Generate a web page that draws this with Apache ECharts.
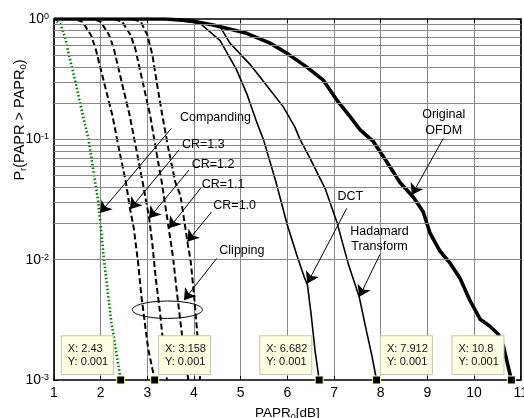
<!DOCTYPE html>
<html><head><meta charset="utf-8">
<script src="https://cdn.jsdelivr.net/npm/echarts@6/dist/echarts.min.js"></script>
<style>html,body{margin:0;padding:0;background:#fff}#c{width:524px;height:418px}</style>
</head><body><div id="c"></div>
<script>
// ---------- data ----------
const xTicks = [1,2,3,4,5,6,7,8,9,10,11];
const yTicks = [0.001,0.01,0.1,1];
const companding = [[1.0,1.0],[1.03,0.97],[1.14,0.9],[1.24,0.7],[1.32,0.5],[1.46,0.3],[1.60,0.17],[1.74,0.1],[1.86,0.05],[1.95,0.03],[2.07,0.01],[2.23,0.003],[2.43,0.001]];
const clipCR13 = [[1.3,1],[1.45,0.995],[1.61,0.95],[1.79,0.736],[1.89,0.57],[2.07,0.30],[2.25,0.159],[2.39,0.084],[2.54,0.044],[2.63,0.0264],[2.71,0.0182],[2.80,0.0096],[2.87,0.0051],[2.96,0.0027],[3.02,0.0018],[3.158,0.001]];
const clipCR12 = [[1.7,1],[1.85,0.995],[2.0,0.95],[2.18,0.736],[2.28,0.57],[2.45,0.30],[2.62,0.159],[2.76,0.084],[2.9,0.044],[3.04,0.022],[3.11,0.0132],[3.18,0.007],[3.27,0.0037],[3.34,0.002],[3.42,0.001]];
const clipCR11 = [[2.1,1],[2.3,0.995],[2.46,0.95],[2.64,0.736],[2.74,0.57],[2.9,0.30],[3.06,0.159],[3.18,0.084],[3.31,0.044],[3.46,0.018],[3.55,0.0105],[3.63,0.0055],[3.72,0.0028],[3.79,0.0017],[3.88,0.001]];
const clipCR10 = [[2.5,1],[2.7,0.995],[2.86,0.95],[3.0,0.736],[3.11,0.5],[3.2,0.3],[3.32,0.159],[3.45,0.084],[3.6,0.044],[3.71,0.034],[3.86,0.014],[3.93,0.0096],[4.0,0.0051],[4.06,0.0027],[4.1,0.0017],[4.13,0.001]];
const dct = [[1,1],[3.3,1],[3.7,0.97],[4.13,0.92],[4.56,0.66],[4.91,0.38],[5.13,0.24],[5.34,0.14],[5.49,0.099],[5.75,0.045],[5.99,0.02],[6.2,0.011],[6.36,0.0072],[6.43,0.0062],[6.51,0.0035],[6.59,0.0018],[6.682,0.001]];
const hadamard = [[1,1],[3.4,1],[4.0,0.97],[4.56,0.86],[4.77,0.63],[5.2,0.42],[5.59,0.27],[5.91,0.187],[6.16,0.127],[6.27,0.1],[6.49,0.069],[6.81,0.039],[7.06,0.0206],[7.31,0.0091],[7.54,0.0049],[7.70,0.0025],[7.81,0.0016],[7.912,0.001]];
const originalOFDM = [[1,1],[3.4,1],[3.9,0.97],[4.41,0.89],[5.13,0.76],[5.63,0.63],[5.99,0.52],[6.41,0.40],[6.77,0.31],[7.06,0.212],[7.34,0.155],[7.56,0.12],[7.84,0.096],[8.13,0.065],[8.41,0.044],[8.70,0.033],[8.91,0.025],[9.06,0.0165],[9.27,0.0118],[9.49,0.0093],[9.7,0.007],[9.91,0.0046],[10.13,0.0032],[10.34,0.0028],[10.52,0.0024],[10.63,0.0019],[10.8,0.001]];
const tipX = [2.43,3.158,6.682,7.912,10.8];
const tipY = [0.001,0.001,0.001,0.001,0.001];
// annotations (data coordinates)
const labelTexts = ['Companding','CR=1.3','CR=1.2','CR=1.1','CR=1.0','Clipping','DCT','Hadamard\nTransform','Original\nOFDM'];
const labelAt = [[3.70,0.152],[3.743,0.0905],[3.95,0.0623],[4.165,0.0423],[4.413,0.0281],[4.542,0.0118],[7.075,0.0333],[7.975,0.01477],[9.35,0.138]];
const arrowFrom = [[3.515,0.1234],[3.678,0.0815],[3.893,0.0556],[4.143,0.0392],[4.379,0.025],[4.486,0.01025],[7.272,0.0267],[7.985,0.01107],[9.342,0.1019]];
const arrowTo = [[1.986,0.0244],[2.628,0.0263],[3.036,0.0221],[3.464,0.0182],[3.856,0.0141],[3.786,0.00461],[6.428,0.00635],[7.542,0.00491],[8.665,0.0344]];
const ellipseBox = [2.68,4.18,0.00453,0.00325];

// ---------- chart ----------
const FONT = 'Liberation Sans, Arial, sans-serif';
const chart = echarts.init(document.getElementById('c'), null, {renderer:'canvas'});
const gridColor = '#888888';
const hLines = [];
for (let e = -3; e < 0; e++) for (let m = 1; m <= 9; m++) if (!(e === -3 && m === 1)) hLines.push(m * Math.pow(10, e));

function curve(name, data, ls, z) {
  return {name, type:'line', data, symbol:'none', showSymbol:false, smooth:false, silent:true, clip:true, z: z || 3, lineStyle: ls};
}
const series = [
  {type:'line', data:[[1,0.001]], symbol:'none', lineStyle:{width:0}, silent:true, z:1,
   markLine:{silent:true, animation:false, symbol:['none','none'], label:{show:false},
     lineStyle:{color:gridColor, width:1, type:'solid'}, data: hLines.map(v => ({yAxis:v}))}},
  curve('Companding', companding, {color:'#007a00', width:2.6, type:[1.5,2.2], cap:'butt'}),
  curve('CR=1.3', clipCR13, {color:'#000', width:2, type:[6,3]}),
  curve('CR=1.2', clipCR12, {color:'#000', width:2, type:[6,3]}),
  curve('CR=1.1', clipCR11, {color:'#000', width:2, type:[6,3]}),
  curve('CR=1.0', clipCR10, {color:'#000', width:2, type:[6,3]}),
  curve('DCT', dct, {color:'#000', width:1.6}),
  curve('Hadamard', hadamard, {color:'#000', width:1.6}),
  curve('Original OFDM', originalOFDM, {color:'#000', width:3.6}),
  {type:'line', data:[[1,0.001]], symbol:'none', lineStyle:{width:0}, silent:true, z:5,
   markLine:{silent:true, animation:false, symbol:['none','arrow'], symbolSize:11, label:{show:false},
     lineStyle:{color:'#000', width:1, type:'solid'},
     data: arrowFrom.map((p,i) => [{coord:p},{coord:arrowTo[i]}])}},
  {type:'line', data:[[1,0.001]], symbol:'none', lineStyle:{width:0}, silent:true, z:10,
   markPoint:{animation:false, symbol:'rect', symbolSize:8,
     itemStyle:{color:'#000', borderColor:'#ffffc8', borderWidth:1},
     data: tipX.map((x,i) => ({coord:[x, tipY[i]],
       label:{show:true, position:[i % 2 === 0 ? -54.4 : 8.8, -39.3], align:'left', verticalAlign:'top',
         formatter:'X: ' + x + '\nY: ' + tipY[i], fontFamily:FONT, fontSize:11, lineHeight:13.4, color:'#111',
         backgroundColor:'#ffffe4', borderColor:'#c4c4b0', borderWidth:1, padding:[6,5,5,6], width:40}}))}}
];

const option = {
  animation:false,
  backgroundColor:'#fff',
  grid:{left:54, top:19, width:466.7, height:361, containLabel:false, outerBoundsMode:'none'},
  xAxis:[
    {type:'value', min:1, max:11, interval:1, position:'bottom',
     axisLine:{show:true, onZero:false, lineStyle:{color:'#000', width:1.6}},
     axisTick:{show:true, inside:true, length:4, lineStyle:{color:'#000'}},
     axisLabel:{fontFamily:FONT, fontSize:14, color:'#000', margin:6, hideOverlap:false},
     splitLine:{show:true, lineStyle:{color:gridColor, width:1}},
     name:'{a|PAPR}{s|0}{a|[dB]}', nameLocation:'middle', nameGap:21,
     nameTextStyle:{rich:{a:{fontFamily:FONT, fontSize:13.5, color:'#000', lineHeight:16, verticalAlign:'top'},
                          s:{fontFamily:FONT, fontSize:9, color:'#000', lineHeight:10, verticalAlign:'bottom', padding:[8,0,0,0]}}}},
    {type:'value', min:1, max:11, interval:1, position:'top',
     axisLine:{show:true, onZero:false, lineStyle:{color:'#000', width:1.6}},
     axisTick:{show:true, inside:true, length:4, lineStyle:{color:'#000'}},
     axisLabel:{show:false}, splitLine:{show:false}}
  ],
  yAxis:[
    {type:'log', logBase:10, min:0.001, max:1, position:'left',
     axisLine:{show:true, onZero:false, lineStyle:{color:'#000', width:1.6}},
     axisTick:{show:true, inside:true, length:4, lineStyle:{color:'#000'}},
     axisLabel:{margin:5, formatter: v => '{b|10}{s|' + Math.round(Math.log10(v)) + '}',
       rich:{b:{fontFamily:FONT, fontSize:14, color:'#000', lineHeight:14, verticalAlign:'bottom', padding:[5,0,0,0]},
             s:{fontFamily:FONT, fontSize:9, color:'#000', lineHeight:10, verticalAlign:'top'}}},
     splitLine:{show:false}},
    {type:'log', logBase:10, min:0.001, max:1, position:'right',
     axisLine:{show:true, onZero:false, lineStyle:{color:'#000', width:1.6}},
     axisTick:{show:true, inside:true, length:4, lineStyle:{color:'#000'}},
     axisLabel:{show:false}, splitLine:{show:false}}
  ],
  series: series
};
chart.setOption(option);

// annotations placed from data coordinates
const P = p => chart.convertToPixel({gridIndex:0}, p);
const graphics = [];
labelTexts.forEach((t,i) => {
  const p = P(labelAt[i]);
  const multi = t.indexOf('\n') >= 0;
  graphics.push({type:'text', x:p[0], y:p[1], z:20, silent:true,
    style:{text:t, font:'12.5px ' + FONT, fill:'#000', align: multi ? 'center' : 'left', verticalAlign:'middle', lineHeight: multi ? 15.5 : 14}});
});
const e1 = P([ellipseBox[0], ellipseBox[2]]), e2 = P([ellipseBox[1], ellipseBox[3]]);
graphics.push({type:'ellipse', z:20, silent:true,
  shape:{cx:(e1[0]+e2[0])/2, cy:(e1[1]+e2[1])/2, rx:Math.abs(e2[0]-e1[0])/2, ry:Math.abs(e2[1]-e1[1])/2},
  style:{fill:null, stroke:'#000', lineWidth:1}});
graphics.push({type:'text', x:20, y:120, rotation:Math.PI/2, z:20, silent:true,
  style:{text:'{a|P}{s|r}{a|(PAPR > PAPR}{s|0}{a|)}', align:'center', verticalAlign:'middle',
    rich:{a:{fontFamily:FONT, fontSize:14.5, fill:'#000', color:'#000', lineHeight:16, verticalAlign:'top'},
          s:{fontFamily:FONT, fontSize:9.5, fill:'#000', color:'#000', lineHeight:10, verticalAlign:'bottom', padding:[8,0,0,0]}}}});
chart.setOption({graphic: graphics});
</script></body></html>
